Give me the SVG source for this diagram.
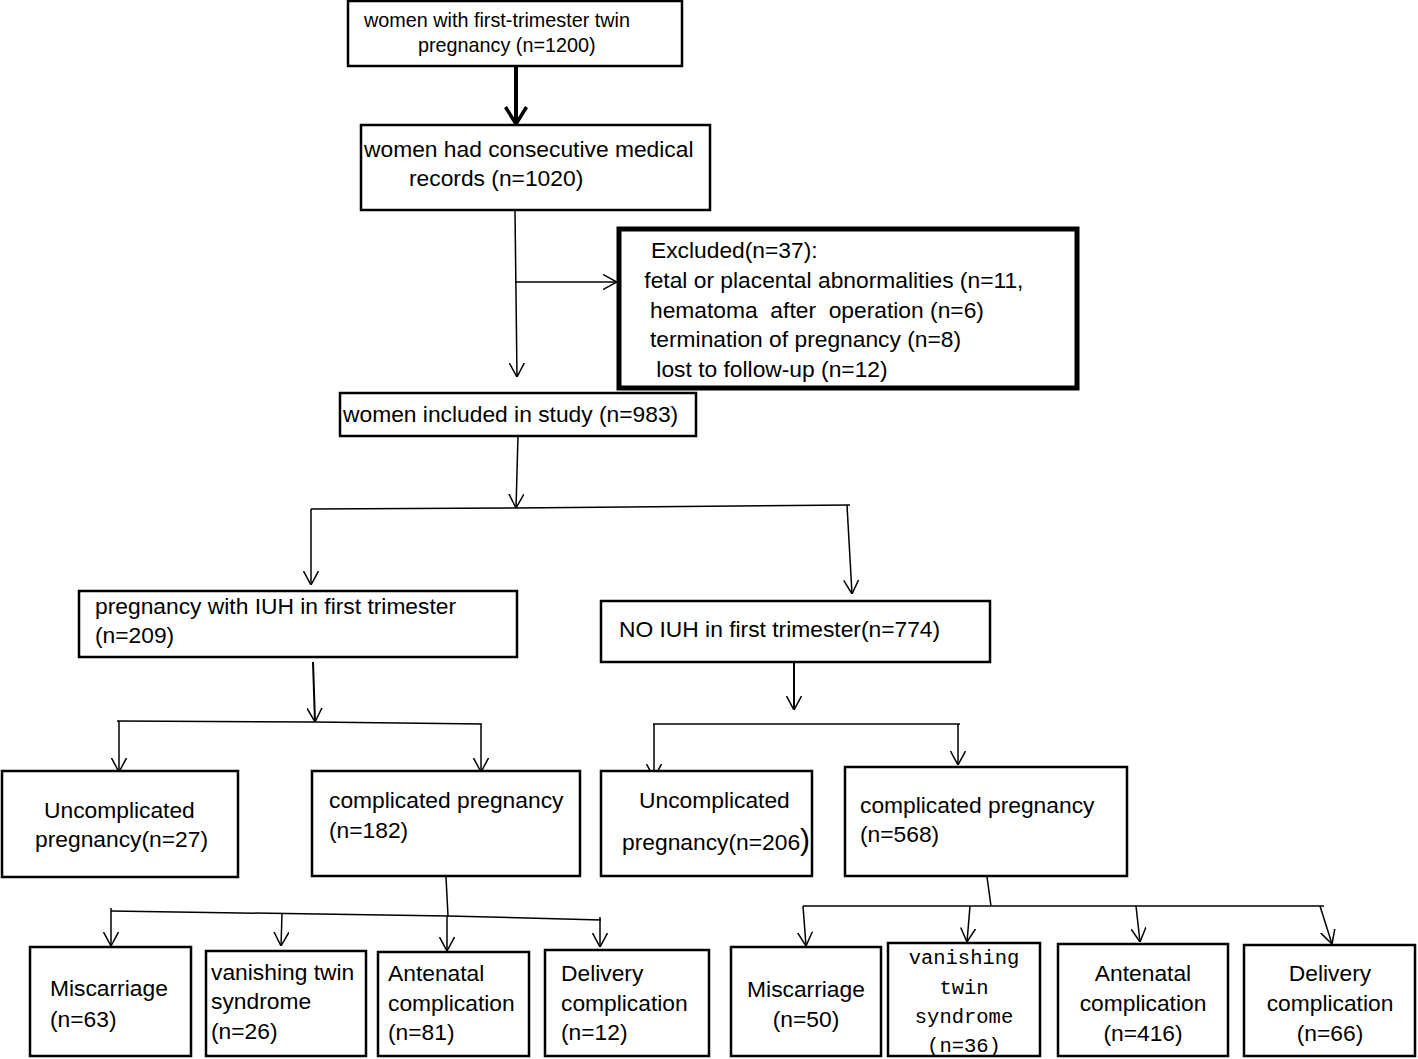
<svg xmlns="http://www.w3.org/2000/svg" width="1418" height="1059" viewBox="0 0 1418 1059">
<style>
.box{fill:#fff;stroke:#000;stroke-width:2.5}
.thick{fill:#fff;stroke:#000;stroke-width:5}
.t{font-family:"Liberation Sans",Arial,sans-serif;font-size:22.8px;fill:#000}
.m{font-family:"Liberation Mono","Courier New",monospace;font-size:20.5px;fill:#000}
.c{text-anchor:middle}
.ln{stroke:#000;stroke-width:1.5;fill:none}
</style>
<defs>
<marker id="ah" viewBox="0 0 14 16" refX="14" refY="8" markerWidth="14" markerHeight="16" markerUnits="userSpaceOnUse" orient="auto">
<path d="M0,0.5 L14,8 L0,15.5" fill="none" stroke="#000" stroke-width="1.5"/>
</marker>
<marker id="ahb" viewBox="0 0 20 24" refX="18" refY="12" markerWidth="20" markerHeight="24" markerUnits="userSpaceOnUse" orient="auto">
<path d="M1,1.5 L18,12 L1,22.5" fill="none" stroke="#000" stroke-width="3.5"/>
</marker>
</defs>
<rect width="1418" height="1059" fill="#fff"/>

<g id="connectors">
<line class="ln" x1="516" y1="66" x2="516" y2="124" style="stroke-width:4" marker-end="url(#ahb)"/>
<line class="ln" x1="515" y1="211" x2="517" y2="377" marker-end="url(#ah)"/>
<line class="ln" x1="515" y1="282" x2="617" y2="282" marker-end="url(#ah)"/>
<line class="ln" x1="518" y1="436" x2="516" y2="508" marker-end="url(#ah)"/>
<polyline class="ln" points="311,509 516,508 850,505"/>
<line class="ln" x1="311" y1="509" x2="311" y2="585" marker-end="url(#ah)"/>
<line class="ln" x1="847" y1="505" x2="852" y2="594" marker-end="url(#ah)"/>
<line class="ln" x1="313" y1="662" x2="315" y2="722" style="stroke-width:2" marker-end="url(#ah)"/>
<polyline class="ln" points="117,721 315,722 482,724"/>
<line class="ln" x1="119" y1="721" x2="119" y2="772" marker-end="url(#ah)"/>
<line class="ln" x1="481" y1="724" x2="481" y2="772" marker-end="url(#ah)"/>
<line class="ln" x1="794" y1="663" x2="794" y2="710" style="stroke-width:2" marker-end="url(#ah)"/>
<line class="ln" x1="653" y1="724" x2="960" y2="724"/>
<line class="ln" x1="654" y1="724" x2="654" y2="778" marker-end="url(#ah)"/>
<line class="ln" x1="958" y1="724" x2="958" y2="765" marker-end="url(#ah)"/>
<line class="ln" x1="446" y1="877" x2="448" y2="916"/>
<polyline class="ln" points="111,911 448,916 601,920"/>
<line class="ln" x1="111" y1="908" x2="111" y2="946" marker-end="url(#ah)"/>
<line class="ln" x1="282" y1="914" x2="281" y2="946" marker-end="url(#ah)"/>
<line class="ln" x1="447" y1="916" x2="447" y2="951" marker-end="url(#ah)"/>
<line class="ln" x1="600" y1="917" x2="600" y2="947" marker-end="url(#ah)"/>
<line class="ln" x1="987" y1="877" x2="991" y2="906"/>
<line class="ln" x1="803" y1="906" x2="1324" y2="906"/>
<line class="ln" x1="803" y1="906" x2="806" y2="946" marker-end="url(#ah)"/>
<line class="ln" x1="970" y1="906" x2="967" y2="942" marker-end="url(#ah)"/>
<line class="ln" x1="1136" y1="906" x2="1140" y2="942" marker-end="url(#ah)"/>
<line class="ln" x1="1320" y1="906" x2="1332" y2="944" marker-end="url(#ah)"/>
</g>

<g id="n1"><rect class="box" x="348" y="1" width="334" height="65"/>
<text class="t" x="364" y="27" style="font-size:19.8px">women with first-trimester twin</text>
<text class="t" x="418" y="52" style="font-size:19.8px">pregnancy (n=1200)</text></g>

<g id="n2"><rect class="box" x="361" y="125" width="349" height="85"/>
<text class="t" x="364" y="157">women had consecutive medical</text>
<text class="t" x="409" y="186">records (n=1020)</text></g>

<g id="excluded"><rect class="thick" x="619" y="229" width="458" height="159"/>
<text class="t" x="651" y="258">Excluded(n=37):</text>
<text class="t" x="638" y="288" xml:space="preserve"> fetal or placental abnormalities (n=11,</text>
<text class="t" x="650" y="318" xml:space="preserve">hematoma  after  operation (n=6)</text>
<text class="t" x="650" y="347">termination of pregnancy (n=8)</text>
<text class="t" x="650" y="377" xml:space="preserve"> lost to follow-up (n=12)</text></g>

<g id="n3"><rect class="box" x="340" y="393" width="356" height="43"/>
<text class="t" x="343" y="422">women included in study (n=983)</text></g>

<g id="iuh"><rect class="box" x="79" y="591" width="438" height="66"/>
<text class="t" x="95" y="614">pregnancy with IUH in first trimester</text>
<text class="t" x="95" y="643">(n=209)</text></g>

<g id="noiuh"><rect class="box" x="601" y="601" width="389" height="61"/>
<text class="t" x="619" y="637">NO IUH in first trimester(n=774)</text></g>

<g id="uncompL"><rect class="box" x="2" y="771" width="236" height="106"/>
<text class="t" x="44" y="818">Uncomplicated</text>
<text class="t" x="35" y="847">pregnancy(n=27)</text></g>

<g id="compL"><rect class="box" x="312" y="771" width="268" height="105"/>
<text class="t" x="329" y="808">complicated pregnancy</text>
<text class="t" x="329" y="838">(n=182)</text></g>

<g id="uncompR"><rect class="box" x="601" y="771" width="211" height="105"/>
<text class="t" x="639" y="808">Uncomplicated</text>
<text class="t" x="622" y="850">pregnancy(n=206<tspan style="font-size:30px">)</tspan></text></g>

<g id="compR"><rect class="box" x="845" y="767" width="282" height="109"/>
<text class="t" x="860" y="813">complicated pregnancy</text>
<text class="t" x="860" y="842">(n=568)</text></g>

<g id="missL"><rect class="box" x="30" y="947" width="161" height="109"/>
<text class="t" x="50" y="996">Miscarriage</text>
<text class="t" x="50" y="1027">(n=63)</text></g>

<g id="vanL"><rect class="box" x="206" y="951" width="160" height="105"/>
<text class="t" x="211" y="980">vanishing twin</text>
<text class="t" x="211" y="1009">syndrome</text>
<text class="t" x="211" y="1039">(n=26)</text></g>

<g id="antL"><rect class="box" x="378" y="952" width="151" height="104"/>
<text class="t" x="388" y="981">Antenatal</text>
<text class="t" x="388" y="1011">complication</text>
<text class="t" x="388" y="1040">(n=81)</text></g>

<g id="delL"><rect class="box" x="545" y="950" width="164" height="106"/>
<text class="t" x="561" y="981">Delivery</text>
<text class="t" x="561" y="1011">complication</text>
<text class="t" x="561" y="1040">(n=12)</text></g>

<g id="missR"><rect class="box" x="731" y="947" width="150" height="109"/>
<text class="t c" x="806" y="997">Miscarriage</text>
<text class="t c" x="806" y="1027">(n=50)</text></g>

<g id="vanR"><rect class="box" x="888" y="943" width="152" height="113"/>
<text class="m c" x="964" y="964">vanishing</text>
<text class="m c" x="964" y="994">twin</text>
<text class="m c" x="964" y="1023">syndrome</text>
<text class="m c" x="964" y="1052">(n=36)</text></g>

<g id="antR"><rect class="box" x="1058" y="944" width="170" height="112"/>
<text class="t c" x="1143" y="981">Antenatal</text>
<text class="t c" x="1143" y="1011">complication</text>
<text class="t c" x="1143" y="1041">(n=416)</text></g>

<g id="delR"><rect class="box" x="1244" y="945" width="171" height="111"/>
<text class="t c" x="1330" y="981">Delivery</text>
<text class="t c" x="1330" y="1011">complication</text>
<text class="t c" x="1330" y="1041">(n=66)</text></g>
</svg>
